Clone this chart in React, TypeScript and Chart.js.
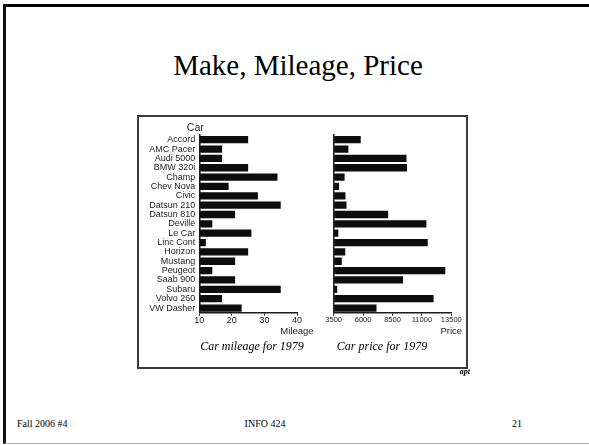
import React, { useEffect, useRef } from "react";
import { Chart, registerables } from "chart.js";
Chart.register(...registerables);

const cars = ["Accord", "AMC Pacer", "Audi 5000", "BMW 320i", "Champ", "Chev Nova", "Civic", "Datsun 210", "Datsun 810", "Deville", "Le Car", "Linc Cont", "Horizon", "Mustang", "Peugeot", "Saab 900", "Subaru", "Volvo 260", "VW Dasher"];
const mileage = [25, 17, 17, 25, 34, 19, 28, 35, 21, 14, 26, 12, 25, 21, 14, 21, 35, 17, 23];
const price = [5799, 4749, 9690, 9735, 4425, 3955, 4499, 4589, 8129, 11385, 3895, 11497, 4482, 4187, 12990, 9400, 3798, 11995, 7140];
const mileageTicks = [10, 20, 30, 40];
const priceTicks = [3500, 6000, 8500, 11000, 13500];

const SANS = '"Liberation Sans", Arial, sans-serif';
const SERIF = '"Liberation Serif", "Times New Roman", serif';
const INK = "#1c1c1c";

const axisLabels = {
  id: "axisLabels",
  afterDraw(chart: any, _args: any, opts: any) {
    const { ctx, chartArea, scales } = chart;
    ctx.save();
    ctx.fillStyle = INK;
    ctx.textAlign = "center";
    ctx.textBaseline = "middle";
    if (opts.xTitle) {
      ctx.font = `9.5px ${SANS}`;
      ctx.fillText(opts.xTitle, scales.x.right, scales.x.top + 19);
    }
    if (opts.yTitle) {
      ctx.font = `10.5px ${SANS}`;
      ctx.fillText(opts.yTitle, chartArea.left - 4, chartArea.top - 7);
    }
    ctx.restore();
  },
};

type PanelProps = {
  values: number[];
  ticks: number[];
  xTitle: string;
  yTitle?: string;
  showLabels: boolean;
  left: number;
  top: number;
  width: number;
  height: number;
  yAxisWidth: number;
  xAxisHeight: number;
  padTop: number;
  padRight: number;
  tickFontSize: number;
};

function BarPanel(p: PanelProps) {
  const ref = useRef<HTMLCanvasElement | null>(null);
  useEffect(() => {
    if (!ref.current) return;
    const chart = new Chart(ref.current, {
      type: "bar",
      data: {
        labels: cars,
        datasets: [
          {
            data: p.values,
            base: p.ticks[0],
            backgroundColor: "#0d0d0d",
            borderWidth: 0,
            barPercentage: 0.78,
            categoryPercentage: 1,
          } as any,
        ],
      },
      options: {
        indexAxis: "y",
        animation: false,
        responsive: false,
        maintainAspectRatio: false,
        layout: { padding: { top: p.padTop, right: p.padRight, left: 0, bottom: 0 } },
        plugins: {
          legend: { display: false },
          tooltip: { enabled: false },
          axisLabels: { xTitle: p.xTitle, yTitle: p.yTitle },
        } as any,
        scales: {
          x: {
            type: "linear",
            min: p.ticks[0],
            max: p.ticks[p.ticks.length - 1],
            afterBuildTicks: (s: any) => {
              s.ticks = p.ticks.map((v) => ({ value: v }));
            },
            afterFit: (s: any) => {
              s.height = p.xAxisHeight;
            },
            ticks: {
              color: INK,
              font: { family: SANS, size: p.tickFontSize, lineHeight: 1 },
              padding: 0,
              maxRotation: 0,
              autoSkip: false,
              callback: (v: any) => String(v),
            },
            grid: { drawOnChartArea: false, tickLength: 3, color: INK, lineWidth: 1 },
            border: { color: INK, width: 1.5 },
          },
          y: {
            afterFit: (s: any) => {
              s.width = p.yAxisWidth;
            },
            ticks: {
              display: p.showLabels,
              color: INK,
              font: { family: SANS, size: 9, lineHeight: 1 },
              padding: 4,
              autoSkip: false,
            },
            grid: { display: false, drawTicks: false },
            border: { color: INK, width: 1.5 },
          },
        },
      } as any,
      plugins: [axisLabels as any],
    });
    return () => chart.destroy();
  }, []);
  return (
    <canvas
      ref={ref}
      width={p.width}
      height={p.height}
      style={{ position: "absolute", left: p.left, top: p.top, width: p.width, height: p.height, display: "block" }}
    />
  );
}

export default function App() {
  const text = (extra: React.CSSProperties): React.CSSProperties => ({
    position: "absolute",
    whiteSpace: "nowrap",
    color: "#000",
    ...extra,
  });
  return (
    <div style={{ position: "fixed", left: 0, top: 0, width: 589, height: 445, overflow: "hidden", background: "#fff" }}>
      {/* slide frame */}
      <div
        style={{
          position: "absolute",
          left: 3,
          top: 4,
          width: 640,
          height: 440,
          boxSizing: "border-box",
          borderTop: "3px solid #000",
          borderLeft: "3px solid #111",
          borderBottom: "1px solid #b0b0b0",
        }}
      />
      <div style={text({ left: 98, width: 400, top: 51, textAlign: "center", font: `29px/29px ${SERIF}` })}>
        Make, Mileage, Price
      </div>
      {/* figure box */}
      <div
        style={{
          position: "absolute",
          left: 137,
          top: 115,
          width: 331,
          height: 254,
          boxSizing: "border-box",
          border: "2px solid #3a3a3a",
        }}
      />
      <BarPanel
        values={mileage}
        ticks={mileageTicks}
        xTitle="Mileage"
        yTitle="Car"
        showLabels={true}
        left={140}
        top={118}
        width={200}
        height={222}
        yAxisWidth={59.3}
        xAxisHeight={27.3}
        padTop={17}
        padRight={43}
        tickFontSize={9}
      />
      <BarPanel
        values={price}
        ticks={priceTicks}
        xTitle="Price"
        showLabels={false}
        left={320}
        top={118}
        width={150}
        height={222}
        yAxisWidth={13.7}
        xAxisHeight={27.3}
        padTop={17}
        padRight={18.7}
        tickFontSize={7.5}
      />
      <div style={text({ left: 152, width: 200, top: 340, textAlign: "center", font: `italic 12px/12px ${SERIF}` })}>
        Car mileage for 1979
      </div>
      <div style={text({ left: 282, width: 200, top: 340, textAlign: "center", font: `italic 12px/12px ${SERIF}` })}>
        Car price for 1979
      </div>
      <div style={text({ left: 440, width: 30, top: 368, textAlign: "right", font: `italic bold 8px/8px ${SERIF}` })}>
        apt
      </div>
      <div style={text({ left: 17, top: 419, font: `10px/10px ${SERIF}` })}>Fall 2006 #4</div>
      <div style={text({ left: 215, width: 100, top: 419, textAlign: "center", font: `10px/10px ${SERIF}` })}>
        INFO 424
      </div>
      <div style={text({ left: 480, width: 42, top: 419, textAlign: "right", font: `10px/10px ${SERIF}` })}>
        21
      </div>
    </div>
  );
}
